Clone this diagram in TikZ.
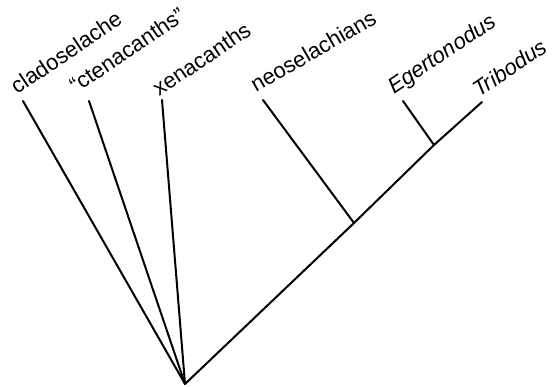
\documentclass[tikz,border=0pt]{standalone}
\usepackage{fontspec}
\setmainfont{Liberation Sans}
\begin{document}
\begin{tikzpicture}[x=1pt,y=1pt,
  branch/.style={line width=2pt, line cap=round},
  taxon/.style={anchor=base west, rotate=34, inner sep=0pt, font=\fontsize{22}{26}\selectfont}]
\useasboundingbox (0,0) rectangle (560,387);
\coordinate (root) at (185,3);
\coordinate (tclado) at (23,286);
\coordinate (tcten) at (89,286);
\coordinate (txena) at (162,287);
\coordinate (tneo) at (263,287);
\coordinate (jneo) at (354,164);
\coordinate (tegert) at (403,286);
\coordinate (jegert) at (434,242);
\coordinate (ttrib) at (482,285);
\draw[branch] (tclado) -- (root);
\draw[branch] (tcten) -- (root);
\draw[branch] (txena) -- (root);
\draw[branch] (root) -- (jneo) -- (jegert) -- (ttrib);
\draw[branch] (tneo) -- (jneo);
\draw[branch] (tegert) -- (jegert);
\node[taxon] (lclado) at (17,292) {cladoselache};
\node[taxon] (lcten) at (76,293) {“ctenacanths”};
\node[taxon] (lxena) at (159,290) {xenacanths};
\node[taxon, rotate=-4] (lneo) at (256,294) {neoselachians};
\node[taxon] (legert) at (394,292) {\itshape Egertonodus};
\node[taxon] (ltrib) at (479,289) {\itshape Tribodus};
\end{tikzpicture}
\end{document}
